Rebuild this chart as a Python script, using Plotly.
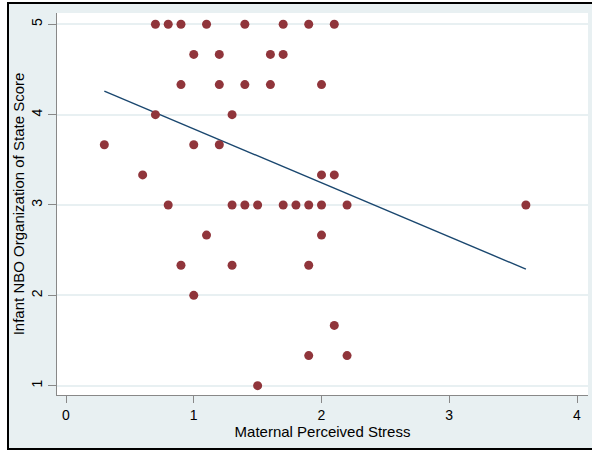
import plotly.graph_objects as go

# Scatter data (Maternal Perceived Stress vs Infant NBO Organization of State Score)
stress = [0.7, 0.8, 0.9, 1.1, 1.4, 1.7, 1.9, 2.1,
          1.0, 1.2, 1.6, 1.7,
          0.9, 1.2, 1.4, 1.6, 2.0,
          0.7, 1.3,
          0.3, 1.0, 1.2,
          0.6, 2.0, 2.1,
          0.8, 1.3, 1.4, 1.5, 1.7, 1.8, 1.9, 2.0, 2.2, 3.6,
          1.1, 2.0,
          0.9, 1.3, 1.9,
          1.0,
          2.1,
          1.9, 2.2,
          1.5]
score = [5, 5, 5, 5, 5, 5, 5, 5,
         4.667, 4.667, 4.667, 4.667,
         4.333, 4.333, 4.333, 4.333, 4.333,
         4, 4,
         3.667, 3.667, 3.667,
         3.333, 3.333, 3.333,
         3, 3, 3, 3, 3, 3, 3, 3, 3, 3,
         2.667, 2.667,
         2.333, 2.333, 2.333,
         2,
         1.667,
         1.333, 1.333,
         1]

# Fitted line endpoints
fit_x = [0.3, 3.6]
fit_y = [4.26, 2.29]

x_ticks = [0, 1, 2, 3, 4]
y_ticks = [1, 2, 3, 4, 5]

BG = "#e8f0f2"
FONT = "Liberation Sans, Arial, Helvetica, sans-serif"

fig = go.Figure()
fig.add_trace(go.Scatter(x=fit_x, y=fit_y, mode="lines",
                         line=dict(color="#1a476f", width=1.4),
                         hoverinfo="skip", showlegend=False))
fig.add_trace(go.Scatter(x=stress, y=score, mode="markers",
                         marker=dict(color="#90353b", size=9, line=dict(width=0)),
                         showlegend=False))

L, R, T, B = 57, 4, 13, 55
W, H = 592, 450
pw, ph = W - L - R, H - T - B

def px2paper_x(p):
    return (p - L) / pw

def px2paper_y(p):
    return (H - B - p) / ph

# white strips outside the framed region (left and top)
fig.add_shape(type="rect", xref="paper", yref="paper", layer="above",
              x0=px2paper_x(-5), x1=px2paper_x(8),
              y0=px2paper_y(460), y1=px2paper_y(-5),
              fillcolor="white", line=dict(width=0))
fig.add_shape(type="rect", xref="paper", yref="paper", layer="above",
              x0=px2paper_x(-5), x1=px2paper_x(600),
              y0=px2paper_y(3), y1=px2paper_y(-5),
              fillcolor="white", line=dict(width=0))
# black frame
fig.add_shape(type="rect", xref="paper", yref="paper", layer="above",
              x0=px2paper_x(8), x1=px2paper_x(640),
              y0=px2paper_y(449), y1=px2paper_y(3),
              fillcolor="rgba(0,0,0,0)", line=dict(color="black", width=2))

fig.update_layout(
    width=W, height=H,
    margin=dict(l=L, r=R, t=T, b=B, pad=0),
    paper_bgcolor=BG,
    plot_bgcolor="white",
    font=dict(family=FONT, size=13, color="black"),
    xaxis=dict(range=[-0.0705, 4.086], tickvals=x_ticks, ticktext=[str(v) for v in x_ticks],
               showgrid=False, zeroline=False, showline=True, linecolor="#888888", linewidth=1,
               ticks="outside", ticklen=7, tickcolor="#888888", tickwidth=1,
               tickfont=dict(size=14),
               title=dict(text="Maternal Perceived Stress", font=dict(size=15), standoff=1)),
    yaxis=dict(range=[0.897, 5.125], tickvals=y_ticks, ticktext=[str(v) for v in y_ticks],
               showgrid=True, gridcolor=BG, gridwidth=1.5, zeroline=False,
               showline=True, linecolor="#888888", linewidth=1,
               ticks="outside", ticklen=8, tickcolor="#888888", tickwidth=1,
               tickangle=-90, tickfont=dict(size=14),
               title=dict(text="Infant NBO Organization of State Score", font=dict(size=15), standoff=1)),
)

fig.write_html("out.html", config={"displayModeBar": False},
               post_script="document.body.style.margin='0';document.body.style.overflow='hidden';")
